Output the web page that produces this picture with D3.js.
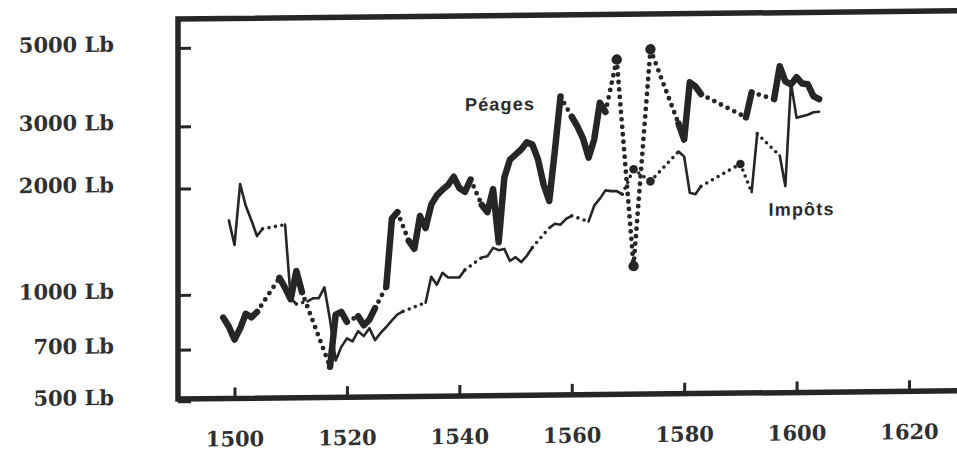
<!DOCTYPE html>
<html><head><meta charset="utf-8">
<script src="https://cdn.jsdelivr.net/npm/d3@7"></script>
<style>
html,body{margin:0;padding:0;background:#fff;}
svg{display:block;}
</style></head><body>
<svg id="chart" width="957" height="452"></svg>
<script>
// ---- data (year, livres) ; missing years are left out and bridged by dots ----
const peages = [
  [1498,860],[1499,810],[1500,745],[1501,800],[1502,880],[1503,860],[1504,890],
  [1508,1110],[1509,1040],[1510,965],[1511,1160],[1512,1010],
  [1517,620],[1518,870],[1519,885],[1520,830],
  [1522,860],[1523,810],[1524,840],[1525,905],
  [1527,1040],[1528,1620],[1529,1690],
  [1531,1400],[1532,1330],[1533,1645],[1534,1520],[1535,1770],[1536,1880],[1537,1950],
  [1538,2010],[1539,2120],[1540,1970],[1541,1920],[1542,2080],
  [1544,1760],[1545,1680],[1546,1950],[1547,1380],[1548,2100],[1549,2360],[1550,2440],
  [1551,2520],[1552,2640],[1553,2600],[1554,2360],[1555,2000],[1556,1800],[1557,2500],[1558,3550],
  [1560,3110],[1561,2920],[1562,2700],[1563,2380],[1564,2680],[1565,3400],[1566,3200],
  [1568,4500],
  [1571,1170],
  [1574,4800],
  [1579,2950],[1580,2660],[1581,3860],[1582,3760],[1583,3570],
  [1591,3060],[1592,3600],
  [1596,3440],[1597,4260],[1598,3860],[1599,3780],[1600,3960],[1601,3800],[1602,3780],
  [1603,3500],[1604,3430]
];
const impots = [
  [1499,1620],[1500,1380],[1501,2050],[1502,1780],[1503,1620],[1504,1460],[1505,1530],
  [1509,1570],[1510,970],[1511,935],
  [1513,950],[1514,970],[1515,970],[1516,1040],[1517,840],[1518,645],[1519,705],[1520,745],
  [1521,730],[1522,780],[1523,755],[1524,795],[1525,735],[1526,770],[1527,800],[1528,835],
  [1529,868],[1530,885],
  [1534,935],[1535,1106],[1536,1050],[1537,1135],[1538,1100],[1539,1100],[1540,1100],[1541,1155],
  [1544,1250],[1545,1260],[1546,1330],[1547,1310],[1548,1320],[1549,1220],[1550,1250],
  [1551,1210],[1552,1260],[1553,1330],
  [1556,1510],[1557,1550],[1558,1540],[1559,1600],[1560,1630],
  [1563,1570],[1564,1740],[1565,1820],[1566,1920],[1567,1910],[1568,1910],[1569,1870],
  [1571,2200],
  [1574,2030],
  [1579,2460],[1580,2380],[1581,1880],[1582,1860],[1583,1960],
  [1590,2260],
  [1592,1880],[1593,2750],
  [1597,2380],[1598,1950],[1599,3820],[1600,3040],[1601,3070],[1602,3100],[1603,3150],[1604,3160]
];
const xTicks = [1500,1520,1540,1560,1580,1600,1620];
const yTicks = [500,700,1000,2000,3000,5000];
const labels = [
  {text:"Péages", year:1541, value:3256},
  {text:"Impôts", year:1595, value:1608}
];

// ---- scales ----
const x = d3.scaleLinear().domain([1500,1620]).range([234.5,909]);
const y = d3.scaleLog().domain([500,5000]).range([401.3,48]);

const ink = "#262626";
const svg = d3.select("#chart");
svg.append("rect").attr("width",957).attr("height",452).attr("fill","#fff");

// slight slant of the printed page
const g = svg.append("g")
  .attr("transform","translate(178,0) skewY(-0.6) translate(-178,0)");

// frame (right side runs off the page)
const frameLeft = 178, frameTop = 19, frameBottom = 399;
g.append("path")
  .attr("d", `M1000,${frameTop} L${frameLeft},${frameTop} L${frameLeft},${frameBottom} L1000,${frameBottom}`)
  .attr("fill","none").attr("stroke",ink).attr("stroke-width",5.5);

// y axis: ticks inward, labels far left
const yAxis = d3.axisLeft(y).tickValues(yTicks).tickSize(-13).tickPadding(64)
  .tickFormat(d => d + " Lb");
const ya = g.append("g").attr("transform",`translate(${frameLeft},0)`).call(yAxis);
ya.select(".domain").remove();
ya.selectAll(".tick line").attr("stroke",ink).attr("stroke-width",3);
ya.selectAll(".tick text")
  .attr("fill","#303030").attr("dy","0.12em")
  .style("font-family","'DejaVu Serif', serif").style("font-size","21px")
  .style("font-weight","bold");

// x axis: ticks upward, labels below
const xAxis = d3.axisBottom(x).tickValues(xTicks).tickSize(-11).tickPadding(33)
  .tickFormat(d3.format("d"));
const xa = g.append("g").attr("transform",`translate(0,${frameBottom})`).call(xAxis);
xa.select(".domain").remove();
xa.selectAll(".tick line").attr("stroke",ink).attr("stroke-width",3);
xa.selectAll(".tick text")
  .attr("fill","#303030")
  .style("font-family","'DejaVu Serif', serif").style("font-size","21px")
  .style("font-weight","bold");

// ---- series helpers ----
function runs(data){
  const out = [];
  let cur = [data[0]];
  for (let i=1;i<data.length;i++){
    if (data[i][0] - data[i-1][0] === 1) cur.push(data[i]);
    else { out.push(cur); cur = [data[i]]; }
  }
  out.push(cur);
  return out;
}
const line = d3.line().x(d => x(d[0])).y(d => y(d[1]));

function drawSeries(data, solidW, dotW, dotGap, dotR){
  const rs = runs(data);
  const s = g.append("g");
  for (let i=1;i<rs.length;i++){
    const a = rs[i-1][rs[i-1].length-1], b = rs[i][0];
    s.append("path").attr("d", line([a,b]))
      .attr("fill","none").attr("stroke",ink).attr("stroke-width",dotW)
      .attr("stroke-linecap","round").attr("stroke-dasharray",`0 ${dotGap}`);
  }
  rs.filter(r => r.length > 1).forEach(r => {
    s.append("path").attr("d", line(r))
      .attr("fill","none").attr("stroke",ink).attr("stroke-width",solidW)
      .attr("stroke-linejoin","round").attr("stroke-linecap","round");
  });
  rs.filter(r => r.length === 1).forEach(r => {
    s.append("circle").attr("cx", x(r[0][0])).attr("cy", y(r[0][1]))
      .attr("r", dotR).attr("fill", ink);
  });
}
drawSeries(impots, 2.6, 3.6, 6.5, 4.3);
drawSeries(peages, 6.5, 4.8, 7.5, 5.2);

// ---- annotations ----
g.selectAll("text.ann").data(labels).enter().append("text")
  .attr("class","ann")
  .attr("x", d => x(d.year)).attr("y", d => y(d.value))
  .text(d => d.text)
  .attr("fill","#2a2a2a")
  .style("font-family","'Liberation Sans', Arial, sans-serif")
  .style("font-weight","bold").style("font-size","18px")
  .style("letter-spacing","1.2px");
</script>
</body></html>
